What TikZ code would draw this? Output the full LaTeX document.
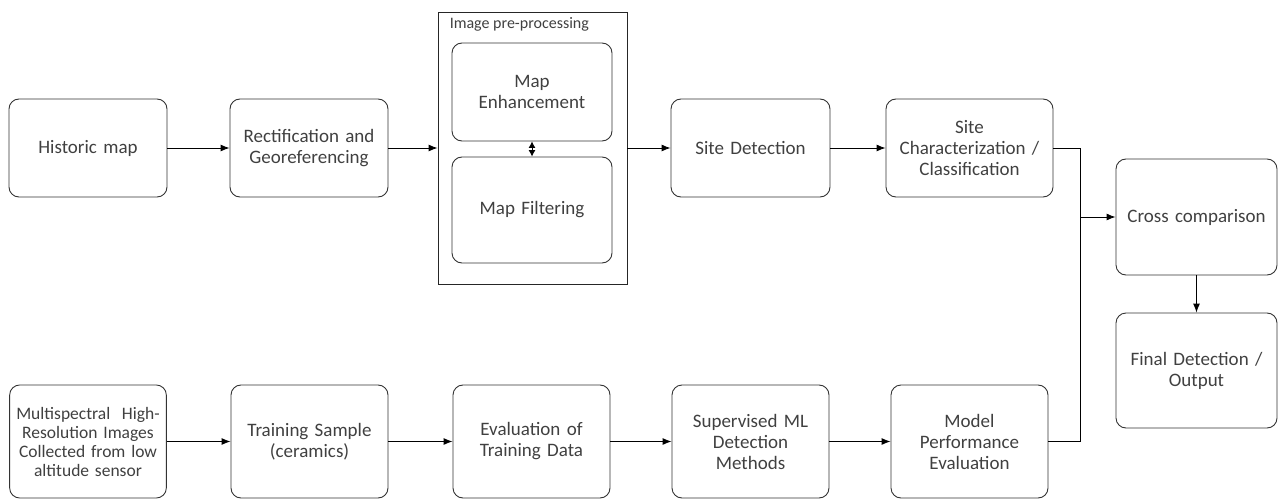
\documentclass[tikz,border=0pt]{standalone}
\usepackage{fontspec}
\setmainfont{Carlito}
\usetikzlibrary{arrows.meta}

\begin{document}
\begin{tikzpicture}[
        x=1pt, y=-1pt,
        stepbox/.style={draw=black!80, line width=0.9pt, rounded corners=10pt,
            minimum width=158pt, minimum height=98pt, text width=150pt,
            align=center, text=black!75, font=\fontsize{19}{21}\selectfont},
        groupbox/.style={draw=black!85, line width=0.9pt,
            minimum width=189pt, minimum height=272pt},
        flow/.style={line width=0.9pt, -{Latex[length=9pt,width=7pt]}},
        both/.style={line width=0.9pt, {Latex[length=6.5pt,width=7pt]}-{Latex[length=6.5pt,width=7pt]}}
    ]

    \useasboundingbox (0,0) rectangle (1278,500);

    % upper row: historic map
    \node[stepbox] (hist) at (88,148) {Historic map};
    \node[stepbox] (rectif) at (309,148) {Rectification and\\Georeferencing};

    % image pre-processing group
    \node[groupbox] (preproc) at (532.5,148) {};
    \node[anchor=north west, text=black!75, font=\fontsize{16}{18}\selectfont, inner sep=0pt]
        (prelabel) at ([shift={(12,6)}]preproc.north west) {Image pre-processing};
    \node[stepbox, minimum width=160pt] (enhance) at (532,92) {Map\\Enhancement};
    \node[stepbox, minimum width=160pt, minimum height=106pt] (filter) at (532,210) {Map Filtering};

    \node[stepbox, minimum width=159pt] (sitedet) at (750.5,148) {Site Detection};
    \node[stepbox, minimum width=167pt] (sitechar) at (969.5,148) {Site\\Characterization /\\Classification};

    % right column
    \node[stepbox, minimum width=161pt, minimum height=116pt] (cross) at (1196.5,217) {Cross comparison};
    \node[stepbox, minimum width=161pt, minimum height=115pt] (final) at (1196.5,370.5) {Final Detection /\\Output};

    % lower row: samples
    \node[stepbox, minimum width=156pt, minimum height=113pt, font=\fontsize{17.5}{19}\selectfont]
        (multi) at (88,441.5) {Multispectral\ \ High-\\Resolution Images\\Collected from low\\altitude sensor};
    \node[stepbox, minimum width=157pt, minimum height=113pt] (sample) at (309.5,441.5) {Training Sample\\(ceramics)};
    \node[stepbox, minimum width=157pt, minimum height=113pt] (evaldata) at (531.5,441.5) {Evaluation of\\Training Data};
    \node[stepbox, minimum width=157pt, minimum height=113pt] (supml) at (750.5,441.5) {Supervised ML\\Detection\\Methods};
    \node[stepbox, minimum width=157pt, minimum height=113pt] (modelperf) at (969.5,441.5) {Model\\Performance\\Evaluation};

    % junction point in front of cross comparison
    \coordinate (join) at (1080,217);

    % connectors
    \draw[flow] (hist) -- (rectif);
    \draw[flow] (rectif) -- (preproc);
    \draw[flow] (preproc) -- (sitedet);
    \draw[flow] (sitedet) -- (sitechar);
    \draw[both] (enhance) -- (filter);

    \draw[flow] (multi) -- (sample);
    \draw[flow] (sample) -- (evaldata);
    \draw[flow] (evaldata) -- (supml);
    \draw[flow] (supml) -- (modelperf);

    \draw[line width=0.9pt] (sitechar.east) -| (join |- modelperf.east) -- (modelperf.east);
    \draw[flow] (join) -- (cross);
    \draw[flow] (cross) -- (final);

\end{tikzpicture}
\end{document}
